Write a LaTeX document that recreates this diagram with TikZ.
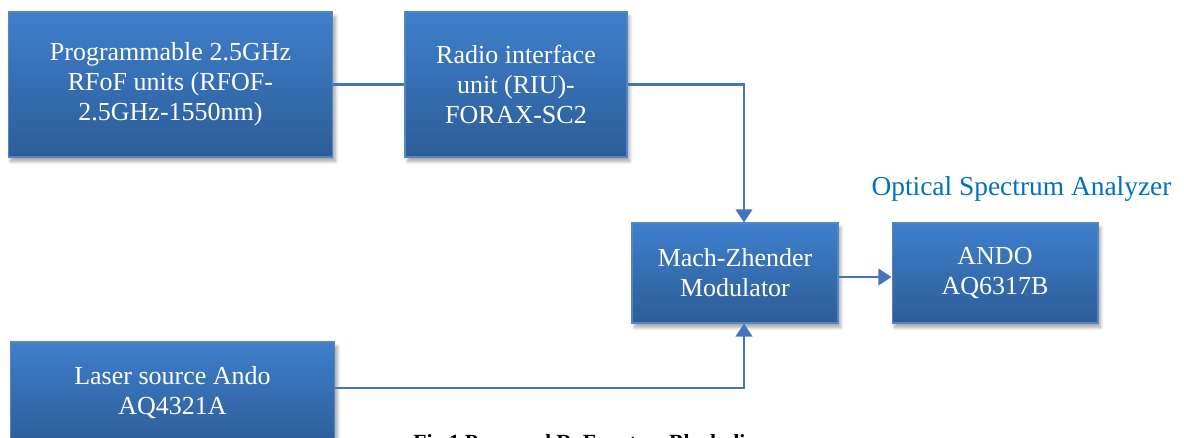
\documentclass[tikz,border=0pt]{standalone}
\usepackage{fontspec}
\setmainfont{Liberation Serif}
\usetikzlibrary{positioning,arrows.meta,shadows.blur}
\definecolor{boxtop}{RGB}{62,127,204}
\definecolor{boxbot}{RGB}{45,93,152}
\definecolor{boxedge}{RGB}{84,134,194}
\definecolor{wire}{RGB}{68,116,190}
\definecolor{osablue}{RGB}{0,112,192}

\begin{document}
\begin{tikzpicture}[
x=0.02cm,y=-0.02cm,
blok/.style={
  draw=boxedge,
  line width=0.6pt,
  top color=boxtop,
  bottom color=boxbot,
  text=white,
  align=center,
  inner sep=2pt,
  font=\fontsize{14.8}{17}\selectfont,
  blur shadow={shadow xshift=1.5pt,shadow yshift=-2.5pt,shadow blur steps=6,shadow opacity=35}
},
conn/.style={
  draw=wire,
  line width=1.3pt
},
arr/.style={
  conn,
  -{Triangle[width=9.5pt,length=7.5pt]}
}
]
\useasboundingbox (0,0) rectangle (1184,437);
\clip (0,0) rectangle (1184,437);

\node[blok,minimum width=6.5cm,minimum height=2.9cm] at (170.5,84.5)
  (rfof) {Programmable 2.5GHz\\ RFoF units (RFOF-\\ 2.5GHz-1550nm)};
\node[blok,minimum width=4.44cm,minimum height=2.9cm] at (516,84.5)
  (riu) {Radio interface\\ unit (RIU)-\\ FORAX-SC2};
\node[blok,minimum width=4.12cm,minimum height=2cm] at (735,273)
  (mzm) {Mach-Zhender\\ Modulator};
\node[blok,minimum width=4.12cm,minimum height=2cm] at (995,273)
  (ando) {ANDO\\ AQ6317B};
\node[blok,minimum width=6.5cm,minimum height=2.04cm] at (172.5,393)
  (laser) {Laser source Ando\\ AQ4321A};

\node[text=osablue,font=\fontsize{15.6}{18}\selectfont] at (1021.5,189)
  (osa) {Optical Spectrum Analyzer};

\draw[conn] (rfof) -- (riu);
\draw[arr] (riu.east) -| ([xshift=0.18cm]mzm.north);
\draw[arr] ([yshift=0.1cm]laser.east) -| ([xshift=0.18cm]mzm.south);
\draw[arr] ([yshift=-0.08cm]mzm.east) -- ([yshift=-0.08cm]ando.west);

% caption, cut off by the page edge
\node[anchor=base west,inner sep=0pt,font=\fontsize{12.3}{14}\selectfont\bfseries] at (413,449)
  (cap) {Fig.1 Proposed RoF system Block diagram};

\end{tikzpicture}
\end{document}
